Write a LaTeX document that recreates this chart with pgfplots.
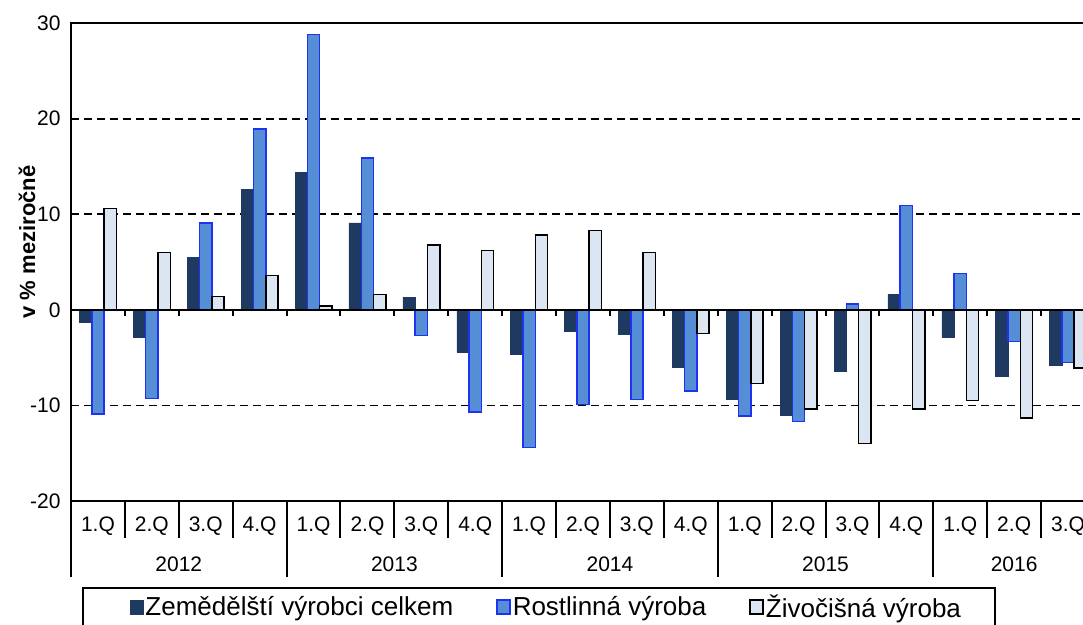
\documentclass[border=0pt]{standalone}
\usepackage{fontspec}
\setmainfont{Liberation Sans}
\usepackage{pgfplots}
\usepackage{pgfplotstable}
\pgfplotsset{compat=1.18}
\definecolor{cDark}{RGB}{31,58,96}
\definecolor{cBlue}{RGB}{85,142,213}
\definecolor{cBlueEdge}{RGB}{30,50,240}
\definecolor{cLight}{RGB}{220,230,242}
\pgfplotsset{
  stdimage/.style={legend image code/.code={\draw[##1] (0pt,-7pt) rectangle (13pt,7pt);}},
  firstimage/.style={legend image code/.code={\path (-14pt,0pt); \draw[##1] (0pt,-7pt) rectangle (13pt,7pt);}},
}

\pgfplotstableread{
x tot rost ziv
0 -1.3 -10.9 10.6
1 -2.9 -9.3 6.0
2 5.5 9.1 1.4
3 12.6 18.9 3.6
4 14.4 28.8 0.4
5 9.1 15.9 1.6
6 1.3 -2.7 6.8
7 -4.4 -10.7 6.2
8 -4.6 -14.4 7.8
9 -2.2 -9.9 8.3
10 -2.6 -9.4 6.0
11 -6.0 -8.5 -2.5
12 -9.4 -11.1 -7.7
13 -11.0 -11.7 -10.4
14 -6.4 0.6 -14.0
15 1.6 10.9 -10.4
16 -2.9 3.8 -9.5
17 -7.0 -3.3 -11.3
18 -5.8 -5.5 -6.1
}\data

\begin{document}
\begin{tikzpicture}
\begin{axis}[
  at={(0,0)}, anchor=south west,
  width=1024pt, height=478pt, scale only axis,
  xmin=-0.5, xmax=18.5, ymin=-20, ymax=30,
  ybar=0pt, bar width=12.3pt,
  axis line style={line width=2pt},
  ytick={-20,-10,0,10,20,30},
  yticklabels={-20,-10,0,10,20,30},
  xtick={0,...,18},
  xticklabels={1.Q,2.Q,3.Q,4.Q,1.Q,2.Q,3.Q,4.Q,1.Q,2.Q,3.Q,4.Q,1.Q,2.Q,3.Q,4.Q,1.Q,2.Q,3.Q},
  major tick length=0pt,
  tick style={draw=none},
  tick label style={font=\fontsize{21}{25}\selectfont},
  x tick label style={anchor=center, yshift=-25pt},
  y tick label style={anchor=east, xshift=-7pt},
  ymajorgrids,
  grid style={black, line width=1.8pt, dash pattern=on 8pt off 5pt},
  clip=false,
  legend columns=3,
  legend style={at={(rel axis cs:0,0)}, anchor=north west, xshift=11pt, yshift=-86pt,
    draw=black, line width=2pt, font=\fontsize{26}{31}\selectfont,
    inner xsep=33pt, inner ysep=6pt,
    nodes={inner sep=1pt},
    /tikz/every odd column/.append style={column sep=1pt},
    /tikz/every even column/.append style={column sep=42pt}},
  stdimage,
]
\addplot[fill=cDark, draw=cDark, line width=0.5pt, firstimage] table[x=x, y=tot] {\data};
\addlegendentry{Zemědělští výrobci celkem}
\addplot[fill=cBlue, draw=cBlueEdge, line width=1.5pt] table[x=x, y=rost] {\data};
\addlegendentry{Rostlinná výroba}
\addplot[fill=cLight, draw=black, line width=1.5pt] table[x=x, y=ziv] {\data};
\addlegendentry{Živočišná výroba}

\draw[line width=2pt] (axis cs:-0.5,0) -- (axis cs:18.5,0);
\pgfplotsinvokeforeach{0.5,1.5,...,17.5}{\draw[line width=2pt] (axis cs:#1,0) -- ([yshift=-6pt]axis cs:#1,0);}
\pgfplotsinvokeforeach{0.5,1.5,2.5,4.5,5.5,6.5,8.5,9.5,10.5,12.5,13.5,14.5,16.5,17.5}{\draw[line width=2pt] (axis cs:#1,-20) -- ([yshift=-37pt]axis cs:#1,-20);}
\pgfplotsinvokeforeach{-0.5,3.5,7.5,11.5,15.5,18.5}{\draw[line width=2pt] (axis cs:#1,-20) -- ([yshift=-76pt]axis cs:#1,-20);}
\node[font=\fontsize{21}{25}\selectfont] at ([yshift=-63pt]axis cs:1.5,-20) {2012};
\node[font=\fontsize{21}{25}\selectfont] at ([yshift=-63pt]axis cs:5.5,-20) {2013};
\node[font=\fontsize{21}{25}\selectfont] at ([yshift=-63pt]axis cs:9.5,-20) {2014};
\node[font=\fontsize{21}{25}\selectfont] at ([yshift=-63pt]axis cs:13.5,-20) {2015};
\node[font=\fontsize{21}{25}\selectfont] at ([yshift=-63pt]axis cs:17,-20) {2016};
\node[rotate=90, font=\bfseries\fontsize{22}{26}\selectfont] at ([xshift=-44pt]rel axis cs:0,0.542) {v \% meziročně};
\coordinate (bl) at (rel axis cs:0,0);
\coordinate (tr) at (rel axis cs:1,1);
\end{axis}
\pgfresetboundingbox
\path[use as bounding box] ([xshift=-71pt,yshift=-123pt]bl) rectangle ([xshift=-12pt,yshift=23pt]tr);
\end{tikzpicture}
\end{document}
